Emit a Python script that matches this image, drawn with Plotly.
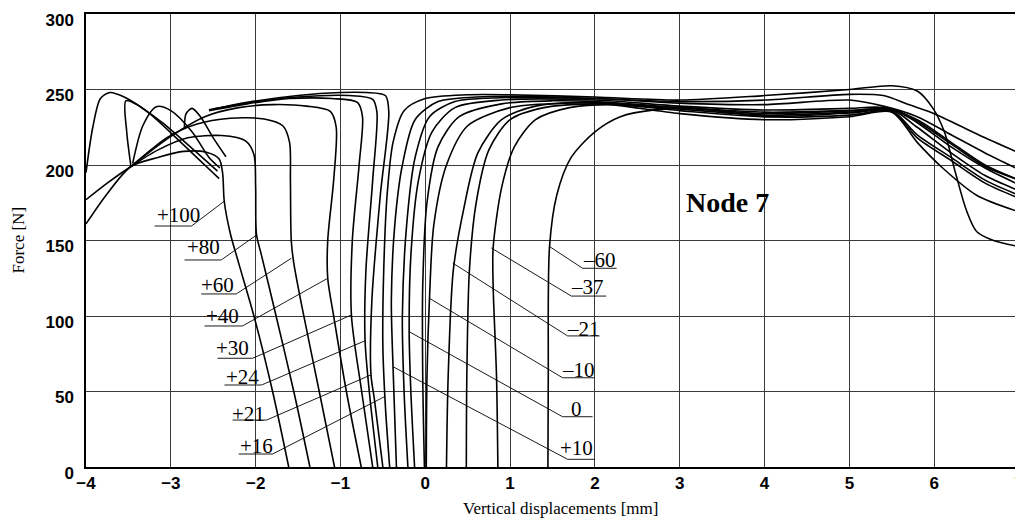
import plotly.graph_objects as go

# ---------------- data ----------------
x_ticks = [-4, -3, -2, -1, 0, 1, 2, 3, 4, 5, 6, 7]
y_ticks = [0, 50, 100, 150, 200, 250, 300]

# left-bending curves (x [mm], F [N])
curve_p100 = [(-1.61, 0), (-1.80, 50), (-2.02, 100), (-2.20, 135), (-2.30, 155), (-2.37, 176), (-2.39, 195),
              (-2.43, 204), (-2.58, 208.5), (-2.85, 209), (-3.15, 205), (-3.47, 199), (-3.75, 181), (-4.0, 161)]
curve_p80 = [(-1.36, 0), (-1.55, 50), (-1.78, 105), (-1.93, 140), (-1.99, 154), (-2.0, 185), (-2.02, 207),
             (-2.12, 216), (-2.4, 219.5), (-2.8, 218), (-3.15, 210), (-3.47, 199), (-3.75, 188), (-4.0, 177)]
curve_p60 = [(-1.07, 0), (-1.25, 50), (-1.45, 105), (-1.55, 135), (-1.58, 150), (-1.59, 190), (-1.6, 215),
             (-1.68, 226), (-1.9, 230.5), (-2.3, 231), (-2.7, 227), (-3.05, 218), (-3.3, 207), (-3.47, 199)]
curve_p40 = [(-0.755, 0), (-0.93, 50), (-1.08, 100), (-1.15, 125), (-1.15, 150), (-1.08, 190), (-1.05, 225),
             (-1.12, 235.5), (-1.4, 239), (-1.8, 240), (-2.2, 238), (-2.6, 232), (-3.0, 219), (-3.47, 199)]
curve_p30 = [(-0.62, 0), (-0.75, 50), (-0.87, 100), (-0.86, 150), (-0.78, 200), (-0.74, 232), (-0.8, 241.5),
             (-1.1, 244), (-1.6, 244), (-2.1, 240.5), (-2.55, 236)]
curve_p24 = [(-0.56, 0), (-0.66, 50), (-0.71, 84), (-0.70, 130), (-0.62, 190), (-0.57, 235), (-0.62, 243.5),
             (-0.9, 246), (-1.5, 245), (-2.1, 241), (-2.55, 236.5)]
curve_p21 = [(-0.50, 0), (-0.60, 45), (-0.64, 61), (-0.63, 110), (-0.53, 180), (-0.43, 235), (-0.47, 246),
             (-0.7, 248), (-1.0, 248), (-1.5, 246), (-2.1, 241.5), (-2.5, 237)]

# arcs at the far left
arc_a = [(-4.0, 195), (-3.92, 225), (-3.83, 244), (-3.72, 248), (-3.55, 245), (-3.25, 234), (-2.9, 216),
         (-2.6, 200), (-2.43, 191)]
arc_b = [(-3.47, 199), (-3.52, 222), (-3.53, 242.5), (-3.4, 240), (-3.1, 228), (-2.75, 211), (-2.45, 196)]
arc_c = [(-3.45, 201), (-3.33, 226), (-3.17, 238.6), (-3.0, 236), (-2.75, 222), (-2.55, 205), (-2.42, 198)]
arc_d = [(-2.84, 225), (-2.82, 234), (-2.75, 237.5), (-2.65, 232), (-2.5, 218), (-2.35, 205.5)]

# right-bending curves
curve_a = [(-0.42, 0), (-0.47, 40), (-0.5, 80), (-0.49, 130), (-0.45, 180), (-0.38, 215), (-0.25, 236),
           (0.0, 244), (0.5, 246.5), (1.0, 246.5), (2.0, 245), (3.0, 243), (4.0, 246), (5.0, 250),
           (5.5, 252.5), (5.8, 249), (5.98, 238), (6.12, 222), (6.25, 195), (6.38, 170), (6.5, 156),
           (6.7, 150), (7.0, 146)]
curve_b = [(-0.34, 0), (-0.38, 66), (-0.4, 110), (-0.36, 160), (-0.27, 200), (-0.12, 230), (0.15, 242),
           (0.6, 245), (1.2, 245.5), (2.0, 244), (3.0, 242), (4.0, 243), (5.0, 246.8), (5.4, 246),
           (5.7, 240), (6.0, 234), (6.3, 226), (6.6, 218), (7.0, 208)]
curve_c = [(-0.205, 0), (-0.25, 50), (-0.27, 100), (-0.22, 160), (-0.12, 205), (0.05, 232), (0.35, 242),
           (0.9, 244.5), (2.0, 244), (3.0, 241), (4.0, 240), (5.0, 243), (5.4, 239), (5.8, 232),
           (6.2, 220), (6.6, 208), (7.0, 197)]
curve_d = [(-0.126, 0), (-0.17, 50), (-0.19, 90), (-0.17, 140), (-0.08, 190), (0.08, 222), (0.35, 238),
           (0.9, 243), (2.0, 243), (3.0, 239), (4.0, 236.4), (5.0, 237.5), (5.4, 238), (5.8, 230),
           (6.2, 215), (6.6, 200), (7.0, 190)]
curve_e = [(-0.01, 0), (-0.03, 60), (-0.03, 120), (0.02, 175), (0.15, 212), (0.4, 232), (0.9, 240.5),
           (1.5, 242.5), (2.0, 242), (3.0, 238), (4.0, 234), (5.0, 236), (5.5, 237), (5.8, 228),
           (6.2, 212), (6.6, 198), (7.0, 187)]
curve_f = [(0.012, 0), (0.02, 60), (0.05, 112), (0.1, 160), (0.25, 200), (0.5, 226), (1.0, 238),
           (1.6, 241), (2.0, 241.5), (3.0, 236), (4.0, 232), (5.0, 234.4), (5.5, 236), (5.8, 220),
           (6.2, 205), (6.6, 190), (7.0, 180)]
curve_g = [(0.25, 0), (0.27, 60), (0.33, 130), (0.45, 170), (0.62, 208), (0.9, 230), (1.3, 239),
           (2.0, 241), (3.0, 234), (4.0, 230), (5.0, 232), (5.5, 235), (5.8, 215), (6.1, 198),
           (6.5, 180), (7.0, 169)]
curve_h = [(0.484, 0), (0.49, 60), (0.52, 130), (0.6, 175), (0.75, 210), (1.0, 230), (1.4, 238),
           (2.0, 240.5), (3.0, 238), (4.0, 235), (5.0, 236), (5.5, 237), (5.8, 229), (6.2, 214),
           (6.6, 199), (7.0, 190)]
curve_i = [(0.856, 0), (0.84, 60), (0.8, 120), (0.8, 145), (0.9, 185), (1.05, 212), (1.3, 230),
           (1.7, 238), (2.2, 240), (3.0, 237), (4.0, 233), (5.0, 235), (5.5, 236.5), (5.8, 225),
           (6.2, 208), (6.6, 193), (7.0, 183)]
curve_j = [(1.446, 0), (1.45, 60), (1.465, 146), (1.55, 180), (1.72, 205), (2.0, 222), (2.3, 232),
           (2.7, 236.5), (3.2, 237.5), (4.0, 232), (5.0, 233), (5.5, 235.5), (5.8, 218), (6.2, 203),
           (6.6, 188), (7.0, 178)]

curves = [curve_p100, curve_p80, curve_p60, curve_p40, curve_p30, curve_p24, curve_p21,
          arc_a, arc_b, arc_c, arc_d,
          curve_a, curve_b, curve_c, curve_d, curve_e, curve_f, curve_g, curve_h, curve_i, curve_j]

# curve labels: text, text centre, underline (y, x0, x1), tip on curve, side
label_text = ["+100", "+80", "+60", "+40", "+30", "+24", "+21", "+16",
              "–60", "–37", "–21", "–10", "0", "+10"]
label_x = [-2.915, -2.614, -2.449, -2.39, -2.272, -2.16, -2.084, -1.995,
           2.055, 1.914, 1.867, 1.808, 1.784, 1.784]
label_y = [166.9, 145.4, 120.5, 100.0, 79.1, 59.9, 35.4, 13.9,
           137.4, 119.5, 91.7, 64.2, 38.7, 12.3]
uline_y = [159.6, 137.1, 114.6, 93.4, 72.0, 54.3, 31.1, 8.6,
           131.6, 113.2, 86.8, 59.1, 33.3, 5.1]
uline_x0 = [-3.192, -2.838, -2.641, -2.603, -2.449, -2.367, -2.272, -2.2,
            1.855, 1.722, 1.678, 1.619, 1.619, 1.678]
uline_x1 = [-2.756, -2.406, -2.229, -2.155, -2.036, -1.93, -1.871, -1.8,
            2.256, 2.134, 2.055, 1.996, 1.973, 1.996]
tip_x = [-2.37, -1.99, -1.58, -1.15, -0.87, -0.71, -0.64, -0.48,
         1.465, 0.78, 0.325, 0.05, -0.19, -0.38]
tip_y = [176, 153.6, 138.2, 125, 100.7, 83.6, 61, 46.6,
         146, 145, 135, 111.7, 89.6, 66.4]
label_side = ["L"] * 8 + ["R"] * 6

title_text = "Node 7"
title_pos = (3.565, 175.5)

# ---------------- figure ----------------
fig = go.Figure()

for c in curves:
    fig.add_trace(go.Scatter(
        x=[p[0] for p in c], y=[p[1] for p in c], mode="lines",
        line=dict(color="black", width=1.6, shape="spline", smoothing=0.8),
        hoverinfo="skip", showlegend=False))

lx, ly = [], []
for i in range(len(label_text)):
    if label_side[i] == "L":
        lx += [uline_x0[i], uline_x1[i], tip_x[i], None]
    else:
        lx += [uline_x1[i], uline_x0[i], tip_x[i], None]
    ly += [uline_y[i], uline_y[i], tip_y[i], None]
fig.add_trace(go.Scatter(x=lx, y=ly, mode="lines", line=dict(color="black", width=0.9),
                         hoverinfo="skip", showlegend=False))

for i, t in enumerate(label_text):
    fig.add_annotation(x=label_x[i], y=label_y[i], text=t, showarrow=False,
                       xref="x", yref="y", xanchor="center", yanchor="middle",
                       font=dict(family="Liberation Serif", size=21, color="black"))

fig.add_annotation(x=title_pos[0], y=title_pos[1], text="<b>" + title_text + "</b>", showarrow=False,
                   xref="x", yref="y", font=dict(family="Liberation Serif", size=28, color="black"))

fig.add_annotation(x=0.509, y=0, xref="paper", yref="paper", yshift=-41, showarrow=False,
                   text="Vertical displacements [mm]", xanchor="center", yanchor="middle",
                   font=dict(family="Liberation Serif", size=17, color="black"))
fig.add_annotation(x=0, y=0.5, xref="paper", yref="paper", xshift=-68, showarrow=False,
                   text="Force [N]", textangle=-90, xanchor="center", yanchor="middle",
                   font=dict(family="Liberation Serif", size=17, color="black"))

axis_common = dict(showgrid=True, gridcolor="#3a3a3a", gridwidth=0.8, zeroline=False,
                   showline=True, linecolor="black", linewidth=1.5, mirror=True,
                   automargin=False, ticks="", ticklabeloverflow="allow",
                   tickfont=dict(family="Liberation Sans", size=17, color="black", weight="bold"))
fig.update_xaxes(range=[-4, 7], tickvals=x_ticks, **axis_common)
fig.update_yaxes(range=[0, 300], tickvals=y_ticks, ticklabelshift=6, ticklabelstandoff=7,
                 **axis_common)

# the page adds an 8 px body margin, so the figure is sized to sit inside the window
fig.update_layout(width=1015, height=518, margin=dict(l=78, r=4, t=6, b=59, autoexpand=False),
                  plot_bgcolor="white", paper_bgcolor="white", showlegend=False)

fig.write_html("out.html")
